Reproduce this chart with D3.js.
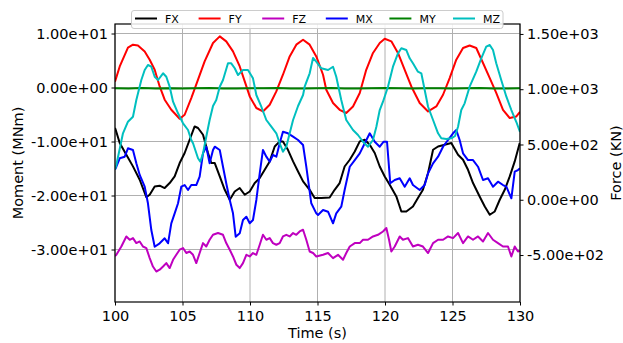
<!DOCTYPE html>
<html><head><meta charset="utf-8">
<script src="https://cdn.jsdelivr.net/npm/d3@7"></script>
<style>body{margin:0;background:#fff}svg{display:block}text{font-family:"DejaVu Sans",sans-serif;fill:#000}</style>
</head><body>
<script>
// ---- data ----
const xTicks = [100,105,110,115,120,125,130];
const momentTicks = [10,0,-10,-20,-30];
const forceTicks = [1500,1000,500,0,-500];
const seriesNames = ["FX","FY","FZ","MX","MY","MZ"];
const seriesColors = ["#000000","#ff0000","#bf00bf","#0000ff","#008000","#00bfbf"];

// forces (KN) on right axis
const FX = [[100,650],[100.05,633],[100.35,513],[100.84,407],[101.33,302],[101.83,181],[102.32,24],[102.57,45],[102.94,120],[103.31,127],[103.68,106],[104.05,151],[104.42,211],[104.79,332],[105.16,423],[105.53,543],[105.9,663],[106.15,649],[106.52,588],[106.89,423],[107.13,332],[107.39,332],[107.76,211],[108.13,90],[108.5,0],[108.87,75],[109.24,106],[109.61,45],[109.98,75],[110.35,151],[110.72,196],[111.09,271],[111.46,347],[111.83,482],[112.2,528],[112.44,528],[112.81,452],[113.19,347],[113.56,256],[113.93,166],[114.42,90],[114.79,15],[115.28,15],[115.9,21],[116.27,90],[116.64,151],[117.01,301],[117.39,362],[117.76,437],[118.13,528],[118.5,543],[118.87,498],[119.24,423],[119.61,301],[119.98,211],[120.35,136],[120.84,30],[121.21,-106],[121.58,-106],[122.07,-61],[122.44,15],[122.81,90],[123.19,242],[123.56,452],[123.93,482],[124.42,498],[124.91,513],[125.41,407],[125.78,362],[126.15,271],[126.52,151],[127.01,30],[127.39,-61],[127.76,-136],[128.13,-106],[128.5,0],[128.87,90],[129.24,211],[129.61,347],[129.98,513]];
const FY = [[100,1068],[100.35,1206],[100.96,1376],[101.33,1403],[101.7,1396],[102.2,1342],[102.57,1267],[102.94,1176],[103.31,1025],[103.68,905],[104.17,814],[104.79,733],[105.16,769],[105.65,920],[106.15,1086],[106.64,1252],[107.26,1418],[107.76,1478],[108.24,1433],[108.74,1342],[109.24,1206],[109.61,1071],[109.98,935],[110.47,830],[110.96,799],[111.46,860],[111.95,980],[112.44,1131],[112.94,1297],[113.43,1403],[113.93,1448],[114.42,1403],[114.91,1297],[115.41,1131],[115.65,995],[116.15,875],[116.64,814],[117.13,785],[117.63,844],[118.13,966],[118.61,1176],[119.11,1328],[119.61,1418],[119.98,1457],[120.47,1433],[120.96,1328],[121.46,1176],[121.95,1025],[122.57,875],[123.19,799],[123.8,844],[124.3,950],[124.79,1101],[125.28,1267],[125.78,1373],[126.27,1396],[126.76,1373],[127.26,1237],[127.76,1101],[128.24,966],[128.74,814],[129.24,739],[129.73,754],[130,796]];
const FZ = [[100,-510],[100.1,-498],[100.47,-423],[100.84,-332],[101.09,-362],[101.33,-347],[101.58,-392],[101.83,-377],[102.07,-423],[102.32,-437],[102.57,-528],[102.81,-604],[103.06,-649],[103.31,-633],[103.56,-604],[103.8,-573],[104.05,-618],[104.3,-543],[104.54,-498],[104.79,-452],[105.04,-437],[105.28,-482],[105.53,-468],[105.78,-498],[106.02,-573],[106.27,-482],[106.52,-392],[106.76,-423],[107.01,-362],[107.26,-317],[107.63,-301],[108.0,-317],[108.24,-392],[108.5,-452],[108.74,-513],[108.99,-588],[109.24,-618],[109.48,-573],[109.73,-498],[109.98,-513],[110.22,-482],[110.47,-498],[110.72,-407],[110.96,-317],[111.21,-362],[111.46,-347],[111.7,-392],[111.95,-407],[112.2,-392],[112.44,-332],[112.69,-317],[112.94,-332],[113.19,-301],[113.43,-317],[113.68,-287],[113.93,-271],[114.17,-362],[114.42,-468],[114.67,-482],[114.91,-513],[115.41,-498],[115.78,-482],[116.15,-528],[116.52,-498],[116.89,-543],[117.13,-482],[117.39,-423],[117.76,-392],[118.13,-392],[118.37,-362],[118.74,-362],[119.11,-332],[119.48,-317],[119.85,-287],[120.1,-256],[120.3,-362],[120.47,-468],[120.72,-423],[121.09,-332],[121.33,-362],[121.7,-347],[122.07,-423],[122.44,-407],[122.81,-423],[123.19,-482],[123.56,-392],[123.93,-362],[124.3,-362],[124.67,-332],[125.04,-347],[125.41,-301],[125.78,-392],[126.15,-332],[126.52,-362],[126.89,-332],[127.26,-377],[127.63,-301],[128.0,-362],[128.37,-392],[128.74,-423],[129.11,-423],[129.36,-513],[129.61,-423],[129.85,-468],[130,-462]];
// moments (MNm) on left axis
const MX = [[100,-15.2],[100.1,-14.67],[100.35,-13.11],[100.72,-12.81],[100.96,-11.26],[101.33,-11.57],[101.58,-14.04],[101.83,-16.2],[102.2,-18.37],[102.44,-21.44],[102.69,-26.39],[102.94,-29.48],[103.31,-28.85],[103.68,-27.93],[103.93,-28.85],[104.17,-25.15],[104.42,-23.3],[104.67,-21.44],[104.91,-18.37],[105.16,-18.06],[105.41,-18.98],[105.65,-18.06],[106.02,-18.06],[106.27,-16.52],[106.52,-12.19],[106.76,-10.96],[107.01,-14.04],[107.26,-11.57],[107.39,-10.96],[107.76,-11.57],[108.0,-14.67],[108.24,-17.74],[108.5,-20.83],[108.74,-23.3],[108.94,-27.63],[109.24,-27.0],[109.48,-24.54],[109.73,-23.93],[109.98,-25.15],[110.22,-24.54],[110.47,-20.83],[110.72,-15.89],[110.96,-11.57],[111.21,-12.81],[111.46,-13.74],[111.7,-12.5],[111.95,-12.81],[112.2,-10.33],[112.44,-8.19],[112.81,-8.48],[113.19,-9.11],[113.56,-9.72],[113.93,-10.65],[114.17,-14.67],[114.54,-21.44],[114.91,-23.3],[115.04,-23.61],[115.41,-22.69],[115.78,-23.0],[116.15,-25.15],[116.39,-23.3],[116.76,-22.07],[117.01,-18.98],[117.39,-14.67],[117.76,-13.43],[118.13,-12.19],[118.5,-10.33],[118.87,-8.48],[119.24,-10.04],[119.61,-10.96],[119.9,-10.04],[120.15,-10.04],[120.39,-17.74],[120.72,-17.13],[121.09,-16.81],[121.46,-18.37],[121.83,-16.81],[122.07,-18.06],[122.57,-18.98],[122.94,-18.06],[123.19,-15.89],[123.56,-14.04],[123.93,-12.81],[124.3,-10.96],[124.67,-9.72],[125.04,-8.48],[125.28,-7.87],[125.53,-9.72],[125.78,-12.19],[126.15,-13.43],[126.52,-13.43],[126.89,-14.67],[127.26,-17.13],[127.63,-16.81],[128.0,-18.37],[128.37,-17.44],[128.74,-18.06],[128.99,-18.37],[129.36,-20.52],[129.61,-15.59],[129.85,-15.28],[130,-14.96]];
const MY = [[100,-0.15],[101,-0.2],[102,-0.1],[103,-0.18],[104,-0.12],[105,-0.2],[106,-0.14],[107,-0.1],[108,-0.17],[109,-0.2],[110,-0.12],[111,-0.15],[112,-0.1],[113,-0.18],[114,-0.2],[115,-0.13],[116,-0.11],[117,-0.17],[118,-0.2],[119,-0.14],[120,-0.1],[121,-0.16],[122,-0.19],[123,-0.13],[124,-0.12],[125,-0.18],[126,-0.15],[127,-0.1],[128,-0.17],[129,-0.2],[130,-0.14]];
const MZ = [[100,-15.2],[100.1,-14.35],[100.59,-8.48],[100.96,-6.33],[101.33,-5.41],[101.58,-2.31],[101.95,1.39],[102.2,3.24],[102.44,4.17],[102.69,3.85],[102.94,2.0],[103.19,1.39],[103.56,2.63],[103.8,2.0],[104.05,0.15],[104.3,-2.63],[104.67,-4.78],[105.04,-6.63],[105.41,-7.87],[105.65,-9.72],[105.78,-10.33],[106.15,-13.11],[106.32,-13.74],[106.52,-12.19],[106.76,-9.11],[107.01,-6.02],[107.26,-3.43],[107.5,-2.31],[107.76,0.15],[108.0,1.39],[108.37,4.48],[108.61,4.48],[108.87,3.56],[109.11,2.31],[109.48,3.24],[109.85,3.24],[110.22,1.7],[110.47,-1.39],[110.84,-3.56],[111.21,-6.02],[111.58,-7.26],[111.95,-8.48],[112.2,-10.33],[112.44,-11.89],[112.69,-10.96],[112.94,-8.48],[113.19,-6.02],[113.56,-3.43],[113.93,-1.39],[114.05,0.15],[114.42,2.63],[114.67,5.46],[114.91,4.78],[115.28,3.56],[115.78,3.24],[116.15,3.85],[116.39,2.0],[116.76,-2.31],[117.13,-6.02],[117.63,-7.87],[118.0,-8.8],[118.37,-10.04],[118.74,-10.96],[119.11,-9.72],[119.36,-7.26],[119.61,-4.17],[119.85,-2.63],[120.22,0.15],[120.59,3.85],[120.96,6.33],[121.21,7.26],[121.58,6.94],[121.83,5.41],[122.07,4.48],[122.44,2.93],[122.69,2.63],[122.94,-0.46],[123.19,-3.56],[123.56,-6.02],[123.93,-8.48],[124.17,-9.41],[124.54,-9.54],[124.91,-9.41],[125.19,-8.98],[125.41,-7.26],[125.65,-4.17],[125.9,-2.93],[126.27,0.15],[126.76,2.93],[127.13,5.41],[127.5,7.56],[127.76,7.87],[128.0,6.94],[128.24,4.48],[128.61,1.39],[128.99,-1.7],[129.36,-4.17],[129.73,-6.39],[130,-8.24]];

const seriesData = [FX, FY, FZ, MX, MY, MZ];
const seriesAxis = ["force","force","force","moment","moment","moment"];

// ---- layout ----
const W = 623, H = 343;
const L = 115, R = 520, T = 24, B = 302;

const svg = d3.select("body").append("svg").attr("width", W).attr("height", H);

const x = d3.scaleLinear().domain([100, 130]).range([L, R]);
const yM = d3.scaleLinear().domain([-39.72, 11.76]).range([B, T]);
const yF = d3.scaleLinear().domain([-925, 1590]).range([B, T]);

function fmtE(v) {
  if (v === 0) return "0.00e+00";
  const s = v < 0 ? "-" : "";
  const a = Math.abs(v);
  let e = Math.floor(Math.log10(a));
  let m = a / Math.pow(10, e);
  if (+m.toFixed(2) >= 10) { m /= 10; e += 1; }
  const es = (e < 0 ? "-" : "+") + String(Math.abs(e)).padStart(2, "0");
  return s + m.toFixed(2) + "e" + es;
}

// grid
const grid = svg.append("g");
grid.selectAll("line.v").data(xTicks).join("line")
  .attr("x1", d => x(d)).attr("x2", d => x(d)).attr("y1", T).attr("y2", B)
  .attr("stroke", "#b0b0b0").attr("stroke-width", 1);
grid.selectAll("line.h").data(momentTicks).join("line")
  .attr("x1", L).attr("x2", R).attr("y1", d => yM(d)).attr("y2", d => yM(d))
  .attr("stroke", "#b0b0b0").attr("stroke-width", 1);

// lines
const clip = svg.append("defs").append("clipPath").attr("id", "clip")
  .append("rect").attr("x", L).attr("y", T).attr("width", R - L).attr("height", B - T);
const plot = svg.append("g").attr("clip-path", "url(#clip)");
seriesData.forEach((data, i) => {
  const yS = seriesAxis[i] === "force" ? yF : yM;
  const line = d3.line().x(d => x(d[0])).y(d => yS(d[1]));
  plot.append("path").datum(data).attr("d", line)
    .attr("fill", "none").attr("stroke", seriesColors[i])
    .attr("stroke-width", 2).attr("stroke-linejoin", "round");
});

// axes
const fontSize = "14.5px";
const ax = svg.append("g").attr("transform", `translate(0,${B})`)
  .call(d3.axisBottom(x).tickValues(xTicks).tickFormat(d3.format("d")).tickSizeOuter(0).tickSize(3.5).tickPadding(5));
const axL = svg.append("g").attr("transform", `translate(${L},0)`)
  .call(d3.axisLeft(yM).tickValues(momentTicks).tickFormat(fmtE).tickSizeOuter(0).tickSize(3.5).tickPadding(3.5));
const axR = svg.append("g").attr("transform", `translate(${R},0)`)
  .call(d3.axisRight(yF).tickValues(forceTicks).tickFormat(fmtE).tickSizeOuter(0).tickSize(3.5).tickPadding(3.5));
[ax, axL, axR].forEach(g => {
  g.select(".domain").remove();
  g.selectAll("line").attr("stroke", "#000").attr("stroke-width", 1);
  g.selectAll("text").attr("font-size", fontSize).attr("font-family", "DejaVu Sans");
});

// frame
svg.append("rect").attr("x", L).attr("y", T).attr("width", R - L).attr("height", B - T)
  .attr("fill", "none").attr("stroke", "#000").attr("stroke-width", 1.2);

// axis labels
svg.append("text").attr("transform", "translate(22.5,163) rotate(-90)")
  .attr("text-anchor", "middle").attr("font-size", fontSize).text("Moment (MNm)");
svg.append("text").attr("transform", "translate(620.5,163) rotate(-90)")
  .attr("text-anchor", "middle").attr("font-size", fontSize).text("Force (KN)");
svg.append("text").attr("x", (L + R) / 2).attr("y", 337.5)
  .attr("text-anchor", "middle").attr("font-size", fontSize).text("Time (s)");

// legend
const lg = svg.append("g");
lg.append("rect").attr("x", 131.5).attr("y", 10.5).attr("width", 371.5).attr("height", 18)
  .attr("rx", 2.5).attr("fill", "#fff").attr("fill-opacity", 0.85)
  .attr("stroke", "#cccccc").attr("stroke-width", 1);
seriesNames.forEach((n, i) => {
  const x0 = 135 + i * 63.6;
  lg.append("line").attr("x1", x0).attr("x2", x0 + 22).attr("y1", 18.5).attr("y2", 18.5)
    .attr("stroke", seriesColors[i]).attr("stroke-width", 2);
  lg.append("text").attr("x", x0 + 30).attr("y", 22.7).attr("font-size", "11px").text(n);
});
</script>
</body></html>
